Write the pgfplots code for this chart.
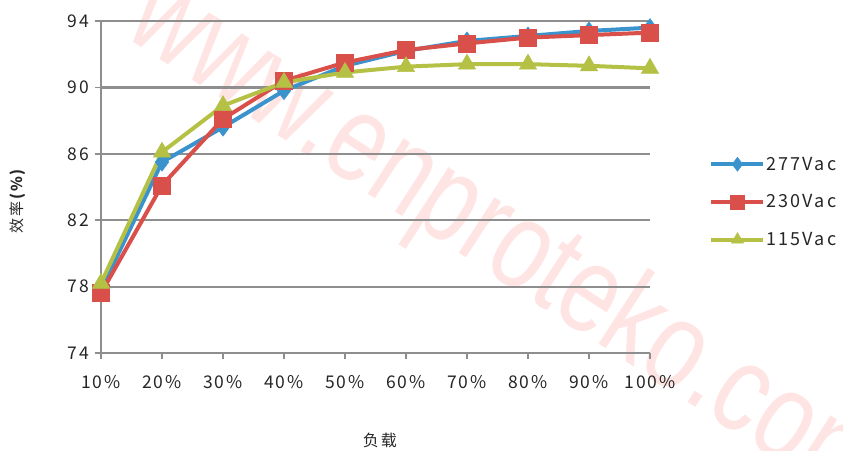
\documentclass[border=0pt]{standalone}
\usepackage{pgfplots}
\pgfplotsset{compat=1.18}
\usepackage{fontspec}
\setmainfont{Noto Sans CJK SC}[LetterSpace=12]
\newfontfamily\wmfont{Liberation Sans}

\definecolor{cblue}{RGB}{58,147,205}
\definecolor{cred}{RGB}{217,80,74}
\definecolor{cgreen}{RGB}{180,193,69}
\definecolor{gridgray}{RGB}{142,142,142}
\definecolor{labelgray}{RGB}{38,38,38}
\definecolor{wmpink}{RGB}{255,228,228}

\begin{document}
\begin{tikzpicture}
\path[use as bounding box] (0,0) rectangle (843pt,450pt);
% watermark
\node[rotate=-33, xscale=0.78, text=wmpink, font=\wmfont\fontsize{125}{130}\selectfont] at (507pt,204pt) {www.enproteko.com};

\begin{axis}[
  at={(101pt,97pt)}, anchor=south west,
  scale only axis, width=549pt, height=332pt,
  xmin=0, xmax=9, ymin=74, ymax=94,
  xtick={0,...,9},
  xticklabels={10\%,20\%,30\%,40\%,50\%,60\%,70\%,80\%,90\%,100\%},
  ytick={74,78,82,86,90,94},
  yticklabels={74,78,82,86,90,94},
  axis x line*=bottom, axis y line*=left,
  axis line style={gridgray, line width=2.2pt, -},
  ymajorgrids,
  y grid style={gridgray, line width=2.2pt},
  tick style={gridgray, line width=1.6pt},
  major tick length=6pt, tick align=outside,
  ticklabel style={font=\fontsize{17.5}{20}\selectfont, text=labelgray},
  xticklabel style={yshift=-13pt},
  yticklabel style={xshift=-2pt},
  xlabel={负载},
  xlabel style={at={(axis description cs:0.508,-0.262)}, anchor=center,
    font=\fontsize{16}{19}\selectfont, text=labelgray},
  ylabel={效率\textbf{(\%)}},
  ylabel style={at={(axis description cs:-0.152,0.46)}, anchor=center,
    font=\fontsize{15}{18}\selectfont, text=labelgray},
  clip=false,
  legend style={at={(1.108,0.455)}, anchor=west, draw=none, fill=none,
    font=\fontsize{18}{21}\selectfont, text=labelgray, row sep=21pt,
    inner sep=0pt, nodes={inner sep=1pt}},
  legend cell align=left,
  legend image code/.code={%
    \draw[#1, mark size=7pt, mark repeat=2, mark phase=2]
      plot coordinates {(0pt,0pt) (26pt,0pt) (52pt,0pt)};},
]
\addplot[cblue, line width=4pt, mark=diamond*, mark size=9pt,
  mark options={solid, fill=cblue, draw=cblue, line width=0.5pt}]
  coordinates {(0,77.8) (1,85.5) (2,87.6) (3,89.8) (4,91.3)
               (5,92.2) (6,92.8) (7,93.1) (8,93.4) (9,93.6)};
\addlegendentry{277Vac}
\addplot[cred, line width=4pt, mark=square*, mark size=8.5pt,
  mark options={solid, fill=cred, draw=cred, line width=0.5pt}]
  coordinates {(0,77.6) (1,84.1) (2,88.1) (3,90.4) (4,91.5)
               (5,92.25) (6,92.65) (7,93.0) (8,93.15) (9,93.3)};
\addlegendentry{230Vac}
\addplot[cgreen, line width=4pt, mark=triangle*, mark size=10pt,
  mark options={solid, fill=cgreen, draw=cgreen, line width=0.5pt}]
  coordinates {(0,78.2) (1,86.1) (2,88.9) (3,90.3) (4,90.9)
               (5,91.25) (6,91.4) (7,91.4) (8,91.3) (9,91.15)};
\addlegendentry{115Vac}
\end{axis}
\end{tikzpicture}
\end{document}
